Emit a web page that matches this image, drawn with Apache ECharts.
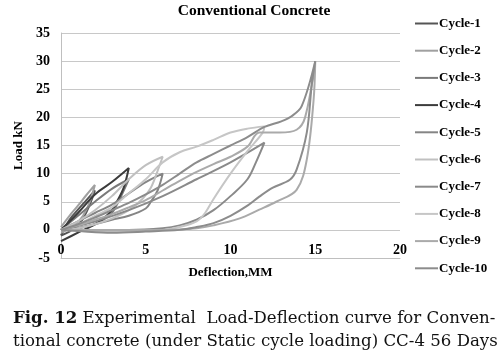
<!DOCTYPE html>
<html><head><meta charset="utf-8">
<script src="https://cdn.jsdelivr.net/npm/echarts@6/dist/echarts.min.js"></script>
<style>html,body{margin:0;padding:0;background:#fff}#c{width:502px;height:357px}</style>
</head><body><div id="c"></div>
<script>
var seriesNames = ['Cycle-1','Cycle-2','Cycle-3','Cycle-4','Cycle-5','Cycle-6','Cycle-7','Cycle-8','Cycle-9','Cycle-10'];
var xTicks = [0, 5, 10, 15, 20];
var yTicks = [-5, 0, 5, 10, 15, 20, 25, 30, 35];
var cycle1 = [[0,-1],[0.5,1.8],[1,3.6],[1.5,5.3],[2,7],[1.7,4.5],[1.3,2],[1,0.8],[0.5,-0.3],[0,-1]];
var cycle2 = [[0,0.5],[0.5,2.5],[1,4.3],[1.5,6.2],[2,8],[1.7,5],[1.3,2.5],[0.8,0.8],[0.4,0],[0,-0.5]];
var cycle3 = [[0,0],[1,2.5],[2,5],[3,7.3],[4,9],[3.7,7],[3.3,4.5],[3,3],[2.5,1.8],[2,1],[1,0.3],[0,0]];
var cycle4 = [[0,0],[1,3],[2,6.3],[3,8.5],[4,11],[3.7,7.5],[3.3,5],[3,3.5],[2.5,2],[2,1],[1,-0.5],[0,-2]];
var cycle5 = [[0,0],[1,1.5],[2,3],[3,4.5],[4,6.5],[5,8.5],[6,10],[5.7,7],[5.3,5],[5,3.8],[4,2.5],[3,1.8],[2,1],[1,0.3],[0,0]];
var cycle6 = [[0,0],[1,1.5],[2,3.5],[3,6],[4,9],[5,11.5],[6,13],[5.7,10.5],[5.3,7.5],[4.8,5.5],[4,3.5],[3,2],[2,1],[1,0.3],[0,0]];
var cycle7 = [[0,0],[2,1.5],[4,3.5],[6,6],[8,9],[10,12],[12,15.5],[11.5,12],[11,9],[10,6],[9,3.5],[8,1.8],[7,0.8],[6,0.3],[4,0],[2,0],[0,0]];
var cycle8 = [[0,0],[1,1],[2,2.5],[3,4],[4,6.5],[5,9],[6,12],[7,13.8],[8,14.8],[9,16],[10,17.3],[11,18],[12,18.4],[11.9,17.3],[11,14],[10,10],[9,5.5],[8.5,3],[8,1.5],[7,0.5],[6,0],[4,-0.3],[2,-0.3],[0,0]];
var cycle9 = [[0,0],[1,0.8],[2,1.8],[3,2.8],[4,4],[5,5.3],[6,7],[7,8.7],[8,10.3],[9,11.7],[10,13],[11,14.8],[11.7,17.3],[12.9,17.3],[13.9,17.8],[14.4,20],[15,30],[14.9,23],[14.5,12.5],[13.9,7.1],[12.7,5],[11.7,3.6],[10.5,2],[9,0.8],[8,0.3],[6,0],[4,0],[2,0],[0,0]];
var cycle10 = [[0,0],[1,1],[2,2.2],[3,3.5],[4,4.8],[5,6.3],[6,8],[7,10],[8,12],[9,13.5],[10,15],[11,16.5],[12,18.3],[13,19.3],[13.6,20.2],[14.2,22],[15,30],[14.8,26],[14.5,17.3],[13.9,10.7],[13.5,8.9],[12.5,7.5],[11.7,5.9],[11,4.3],[10,2.5],[9,1.2],[8,0.5],[7,0],[5,-0.3],[3,-0.5],[1,-0.2],[0,0]];
var cycles = [cycle1,cycle2,cycle3,cycle4,cycle5,cycle6,cycle7,cycle8,cycle9,cycle10];
var colors = ['#555555','#a0a0a0','#7a7a7a','#3c3c3c','#858585','#c0c0c0','#8a8a8a','#c6c6c6','#aaaaaa','#8c8c8c'];

var serif = '"Liberation Serif", "Times New Roman", serif';
var chart = echarts.init(document.getElementById('c'));
chart.setOption({
  animation: false,
  color: colors,
  title: {
    text: 'Conventional Concrete',
    left: 254, top: 3, textAlign: 'center', padding: 0,
    textStyle: {fontFamily: serif, fontSize: 15.5, fontWeight: 'bold', color: '#000'}
  },
  legend: {
    orient: 'vertical', left: 415, top: 17, itemGap: 14.2, padding: 0,
    itemWidth: 23, itemHeight: 14,
    icon: 'path://M0,6 L23,6 L23,8 L0,8 Z',
    data: seriesNames,
    textStyle: {fontFamily: serif, fontSize: 13, fontWeight: 'bold', color: '#000', padding: [0,0,0,-4]}
  },
  grid: {left: 61, right: 102, top: 33, bottom: 99, outerBoundsMode: 'none', containLabel: false},
  xAxis: {
    type: 'value', min: xTicks[0], max: xTicks[xTicks.length-1], interval: 5,
    name: 'Deflection,MM', nameLocation: 'middle', nameGap: 8,
    nameTextStyle: {fontFamily: serif, fontSize: 13, fontWeight: 'bold', color: '#000', verticalAlign: 'top'},
    axisLine: {onZero: false, lineStyle: {color: '#bfbfbf'}},
    axisTick: {show: false},
    axisLabel: {fontFamily: serif, fontSize: 14, fontWeight: 'bold', color: '#000', margin: -15},
    splitLine: {show: false}
  },
  yAxis: {
    type: 'value', min: yTicks[0], max: yTicks[yTicks.length-1], interval: 5,
    name: 'Load kN', nameLocation: 'middle', nameGap: 28, nameRotate: 90,
    nameTextStyle: {fontFamily: serif, fontSize: 13, fontWeight: 'bold', color: '#000'},
    axisLine: {show: true, lineStyle: {color: '#bfbfbf'}},
    axisTick: {show: false},
    axisLabel: {fontFamily: serif, fontSize: 14, fontWeight: 'bold', color: '#000', margin: 11},
    splitLine: {lineStyle: {color: '#c8c8c8', width: 1}}
  },
  series: cycles.map(function (d, i) {
    return {
      name: seriesNames[i], type: 'line', data: d, smooth: 0.35,
      showSymbol: false, lineStyle: {width: 2, color: colors[i]}, itemStyle: {color: colors[i]}
    };
  }),
  graphic: [
    {type: 'text', left: 13, top: 307, style: {
      text: '{b|Fig. 12} Experimental  Load-Deflection curve for Conven-\ntional concrete (under Static cycle loading) CC-4 56 Days',
      font: '16.6px "DejaVu Serif", serif', fill: '#111', lineHeight: 23,
      rich: {b: {fontWeight: 'bold', fontFamily: '"DejaVu Serif", serif', fontSize: 16.6, fill: '#111', lineHeight: 23}}
    }}
  ]
});
</script>
</body></html>
